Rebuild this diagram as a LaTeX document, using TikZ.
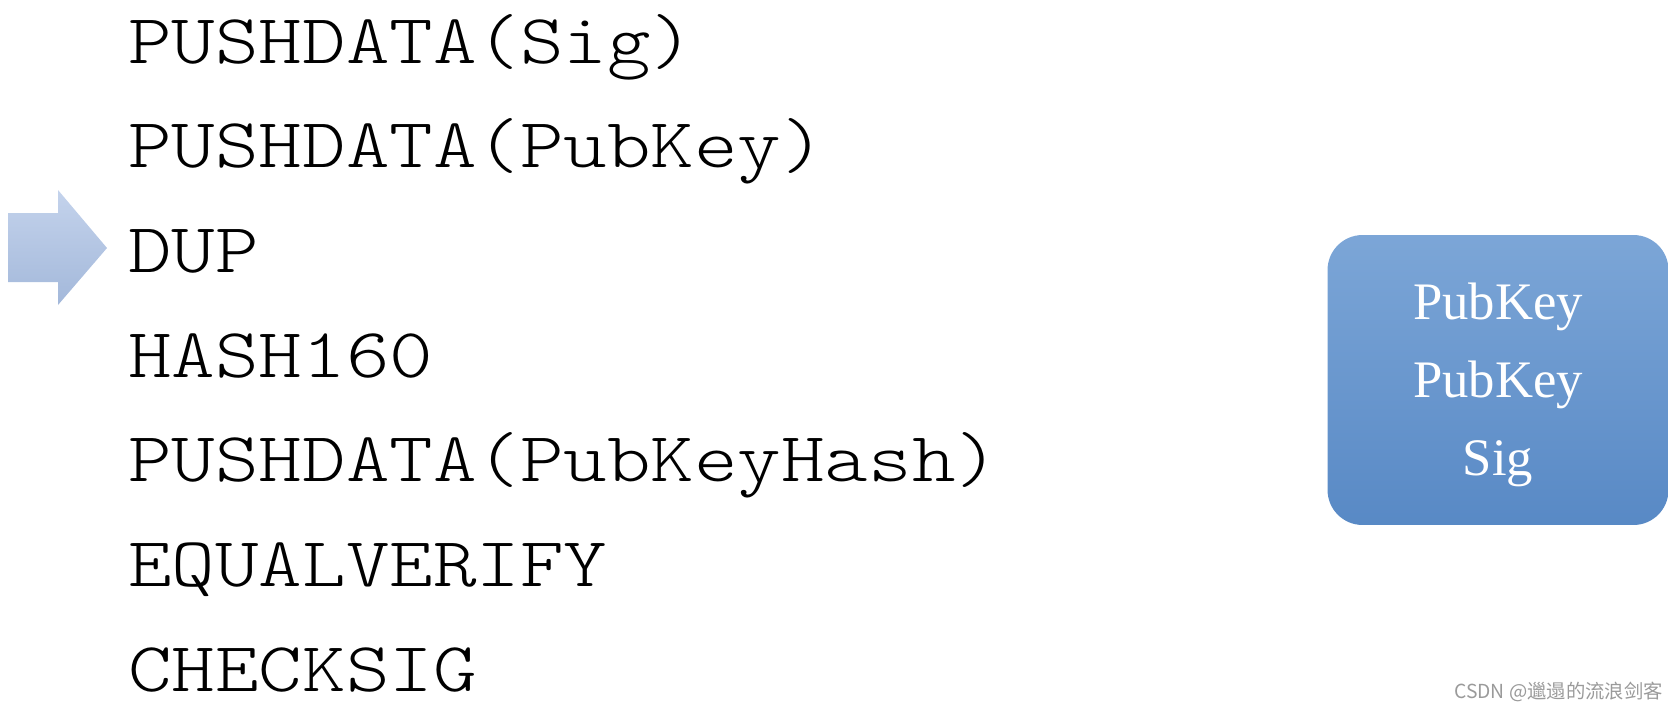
\documentclass[tikz,border=0pt]{standalone}
\usepackage{fontspec}
\setmainfont{Liberation Serif}
\setmonofont{Latin Modern Mono Light}[FakeStretch=1.18]
\newfontfamily\cjkfont{Noto Sans CJK SC}
\usepackage{xcolor}
\usepackage{tikz}
\usetikzlibrary{calc, positioning}

\definecolor{arrowtop}{HTML}{C4D3EC}
\definecolor{arrowbot}{HTML}{A3B8DA}
\definecolor{stacktop}{HTML}{7CA6D7}
\definecolor{stackbot}{HTML}{5889C5}
\definecolor{markgray}{HTML}{9A9A9A}

\tikzset{
  opline/.style={anchor=base west, inner sep=0pt, font=\ttfamily\fontsize{40}{48}\selectfont},
  stackbox/.style={rounded corners=0.7cm, top color=stacktop, bottom color=stackbot,
    minimum width=6.82cm, minimum height=5.8cm, inner sep=0pt},
  stacktext/.style={anchor=base, inner sep=0pt, text=white, font=\fontsize{30}{35}\selectfont},
  watermark/.style={anchor=base east, inner sep=0pt, text=markgray, font=\cjkfont\fontsize{11}{13}\selectfont}
}

\begin{document}
\begin{tikzpicture}[x=0.02cm, y=-0.02cm]
    \useasboundingbox (0,0) rectangle (1680,710);

    % Các lệnh của script
    \foreach \op [count=\i] in {PUSHDATA(Sig), PUSHDATA(PubKey), DUP, HASH160,
        PUSHDATA(PubKeyHash), EQUALVERIFY, CHECKSIG}
        \node[opline] (op\i) at (128, {63+104.7*(\i-1)}) {\op};

    % Mũi tên chỉ lệnh đang thực hiện
    \shade[top color=arrowtop, bottom color=arrowbot]
        (8,213) -- (58,213) -- (58,190) -- (107,248) -- (58,305) -- (58,282) -- (8,282) -- cycle;

    % Ngăn xếp
    \node[stackbox] (stack) at (1498,380) {};
    \node[stacktext] (s1) at (stack.center |- 0,319) {PubKey};
    \node[stacktext] (s2) at (stack.center |- 0,397) {PubKey};
    \node[stacktext] (s3) at (stack.center |- 0,475) {Sig};

    \node[watermark] (mark) at (1663,698) {CSDN @邋遢的流浪剑客};
\end{tikzpicture}
\end{document}
